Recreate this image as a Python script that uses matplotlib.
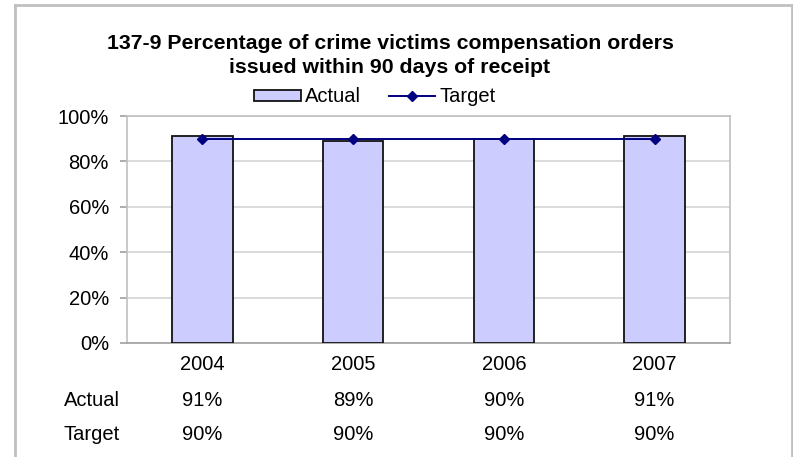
import matplotlib
matplotlib.use("Agg")
import matplotlib.pyplot as plt
from matplotlib import transforms
from matplotlib.lines import Line2D
from matplotlib.patches import Patch
import numpy as np

years = ["2004", "2005", "2006", "2007"]
actual = [91, 89, 90, 91]
target = [90, 90, 90, 90]
row_labels = ["Actual", "Target"]
title = "137-9 Percentage of crime victims compensation orders\nissued within 90 days of receipt"

plt.rcParams["font.family"] = ["Liberation Sans", "DejaVu Sans"]
FS = 14.5

W, H = 793, 457
fig = plt.figure(figsize=(W / 100, H / 100), dpi=100)
fig.patch.set_facecolor("white")


def fx(px):
    return px / W


def fy(py):
    return 1 - py / H


# outer chart frame (open at the bottom)
frame_kw = dict(color="#c0c0c0", lw=2, transform=fig.transFigure)
fig.add_artist(Line2D([fx(15), fx(15)], [fy(5), 0], **frame_kw))
fig.add_artist(Line2D([fx(15), fx(792)], [fy(5), fy(5)], **frame_kw))
fig.add_artist(Line2D([fx(792), fx(792)], [fy(5), 0], **frame_kw))

ax = fig.add_axes([fx(127), fy(343), fx(730) - fx(127), (343 - 116) / H])
x = np.arange(len(years))

ax.bar(x, actual, width=0.4, color="#ccccff", edgecolor="#111111", linewidth=1.3, zorder=3)
ax.plot(x, target, color="#000080", lw=1.4, marker="D", markersize=5.5, zorder=4)

ax.set_xlim(-0.5, len(years) - 0.5)
ax.set_ylim(0, 100)
ax.set_yticks(np.arange(0, 101, 20))
ax.set_yticklabels([f"{v}%" for v in range(0, 101, 20)], fontsize=FS)
ax.yaxis.grid(True, color="#d4d4d4", lw=1.2, zorder=0)
ax.set_axisbelow(True)
for s in ax.spines.values():
    s.set_color("#c0c0c0")
    s.set_linewidth(1.2)
ax.spines["bottom"].set_color("#a0a0a0")
ax.tick_params(axis="y", length=5, width=1.2, color="#a0a0a0", pad=8)

ax.set_xticks(x)
ax.set_xticklabels(years, fontsize=FS)
ax.tick_params(axis="x", length=0, pad=9)

# data table under the axis
tr = transforms.blended_transform_factory(ax.transData, fig.transFigure)
for row, vals, py in [(row_labels[0], actual, 400), (row_labels[1], target, 434)]:
    fig.text(fx(64), fy(py), row, fontsize=FS, ha="left", va="center")
    for xi, v in zip(x, vals):
        ax.text(xi, fy(py), f"{v}%", transform=tr, fontsize=FS, ha="center", va="center",
                clip_on=False)

fig.text(fx(390), fy(55.5), title, fontsize=15.3, fontweight="bold", ha="center", va="center",
         linespacing=1.35)

handles = [
    Patch(facecolor="#ccccff", edgecolor="#111111", linewidth=1.3, label="Actual"),
    Line2D([], [], color="#000080", lw=1.4, marker="D", markersize=5.5, label="Target"),
]
fig.legend(handles=handles, loc="center", bbox_to_anchor=(fx(375), fy(97)), ncol=2,
           frameon=False, fontsize=FS, handlelength=2.3, handleheight=0.5,
           handletextpad=0.2, columnspacing=1.4, borderaxespad=0, borderpad=0)

fig.savefig("out.png", dpi=100)
